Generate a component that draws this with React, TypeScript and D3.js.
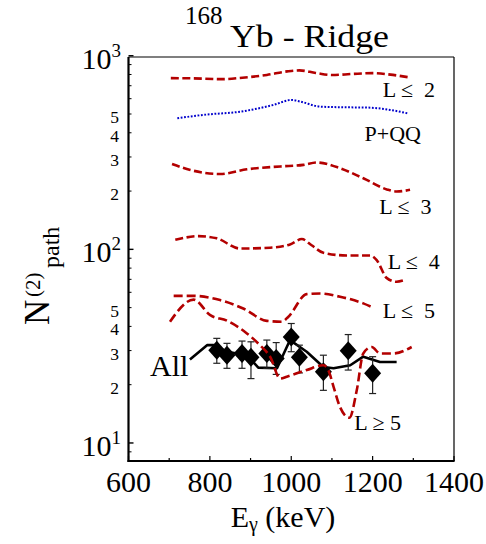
import React from 'react';
import * as d3 from 'd3';

// ---- data ----
const E_L2 = [704, 760, 830, 880, 940, 990, 1020, 1060, 1100, 1150, 1200, 1250, 1287];
const N_L2 = [766, 764, 757, 770, 796, 830, 840, 815, 795, 805, 813, 796, 775];

const E_PQQ = [720, 760, 793, 874, 956, 1001, 1022, 1071, 1120, 1186, 1243, 1288];
const N_PQQ = [475, 488, 497, 514, 557, 591, 580, 546, 542, 540, 525, 503];

const E_L3 = [707, 752, 825, 891, 973, 1030, 1063, 1112, 1177, 1235, 1259, 1292];
const N_L3 = [276, 257, 245, 259, 268, 273, 281, 266, 233, 204, 199, 203];

const E_L4 = [715, 772, 817, 874, 948, 997, 1026, 1050, 1079, 1136, 1194, 1210, 1235, 1259, 1275];
const N_L4 = [112, 117, 114, 101, 102, 106, 113, 105, 96, 93, 93, 88, 71, 68, 69];

const E_L5 = [711, 760, 825, 882, 940, 977, 993, 1038, 1071, 1120, 1177, 1202];
const N_L5 = [57.5, 57.5, 54.7, 49.5, 42.7, 42.3, 44.9, 58.7, 59.2, 56.9, 52.6, 49.9];

const E_G5 = [702, 760, 801, 842, 891, 923, 948, 973, 989, 1038, 1079, 1091, 1104, 1120, 1143, 1161, 1177, 1198, 1218, 1251, 1296];
const N_G5 = [42.3, 55, 45.7, 42.8, 36.8, 32.0, 27.9, 21.5, 22.0, 23.8, 25.2, 23.8, 19.5, 15.3, 13.5, 18.7, 29.0, 31.3, 29.0, 29.0, 31.3];

const E_ALL = [751, 793, 809, 842, 891, 919, 965, 997, 1038, 1079, 1104, 1145, 1177, 1218, 1259];
const N_ALL = [27.0, 32.0, 32.0, 29.6, 28.4, 24.5, 24.3, 34.0, 29.6, 24.7, 24.3, 25.2, 27.9, 26.2, 26.2];

const E_EXP = [817, 842, 879, 901, 940, 963, 1000, 1020, 1079, 1140, 1200];
const N_EXP = [30.1, 28.4, 29.0, 27.7, 29.0, 27.3, 35.3, 27.7, 23.3, 29.9, 22.9];
const HI_EXP = [34.7, 32.7, 33.6, 33.3, 34.0, 33.0, 41.4, 32.0, 28.4, 36.3, 27.9];
const LO_EXP = [25.8, 24.3, 24.3, 21.5, 24.3, 22.6, 29.6, 23.0, 18.7, 23.8, 18.0];

const X_TICKS = [600, 700, 800, 900, 1000, 1100, 1200, 1300, 1400];
const X_LABELS = [600, 800, 1000, 1200, 1400];
const Y_MAJOR = [10, 100, 1000];
const Y_MINOR = [9, 20, 30, 40, 50, 60, 70, 80, 90, 200, 300, 400, 500, 600, 700, 800, 900];
const Y_MINOR_LABELS = [20, 30, 40, 50, 200, 300, 400, 500];

const CURVE_LABELS = [
  { text: 'L \u2264  2', e: 1225, n: 615 },
  { text: 'P+QQ', e: 1180, n: 363 },
  { text: 'L \u2264  3', e: 1216.5, n: 152 },
  { text: 'L \u2264  4', e: 1237, n: 79.1 },
  { text: 'L \u2264  5', e: 1225, n: 44.0 },
  { text: 'L \u2265 5', e: 1155, n: 11.6 },
];
const ALL_LABEL = { text: 'All', e: 653, n: 22.2 };

const FONT = '"Liberation Serif", "Times New Roman", serif';

export default function App() {
  const M = { left: 128.5, right: 454, top: 57, bottom: 461 };
  const x = d3.scaleLinear().domain([600, 1400]).range([M.left, M.right]);
  const y = d3.scaleLog().domain([8.07, 985]).range([M.bottom, M.top]);

  const zip = (a: number[], b: number[]) => a.map((v, i) => [v, b[i]] as [number, number]);
  const smooth = d3.line<[number, number]>().x(d => x(d[0])).y(d => y(d[1])).curve(d3.curveMonotoneX);
  const straight = d3.line<[number, number]>().x(d => x(d[0])).y(d => y(d[1]));

  const red = '#b30000';
  const redDash = {
    fill: 'none', stroke: red, strokeWidth: 2.6, strokeDasharray: '8 3.5',
  } as React.CSSProperties;

  return (
    <svg width={486} height={544} style={{ position: 'absolute', left: 0, top: 0, background: '#fff' }}
      fontFamily={FONT}>
      {/* Title */}
      <text x={185} y={24.3} fontSize={25} fill="#000">168</text>
      <text x={230} y={46.7} fontSize={31} fill="#000" textLength={159} lengthAdjust="spacingAndGlyphs">Yb - Ridge</text>

      {/* Frame */}
      <line x1={M.left} x2={M.right} y1={M.top} y2={M.top} stroke="#000" strokeWidth={1.2} />
      <line x1={M.right} x2={M.right} y1={M.top} y2={M.bottom} stroke="#000" strokeWidth={1.2} />
      <line x1={M.left} x2={M.left} y1={M.top} y2={M.bottom + 1} stroke="#000" strokeWidth={2.2} />
      <line x1={M.left - 1} x2={M.right + 0.6} y1={M.bottom} y2={M.bottom} stroke="#000" strokeWidth={2.2} />

      {/* X ticks */}
      {X_TICKS.map(t => {
        const major = X_LABELS.includes(t);
        return <line key={'xt' + t} x1={x(t)} x2={x(t)} y1={M.bottom} y2={M.bottom - (major ? 5 : 3)} stroke="#000" strokeWidth={1.2} />;
      })}
      {X_LABELS.map(t => (
        <text key={'xl' + t} x={x(t)} y={492.3} fontSize={30} textAnchor="middle" fill="#000">{t}</text>
      ))}

      {/* Y ticks */}
      {Y_MAJOR.map(t => (
        <line key={'ymj' + t} x1={M.left} x2={M.left + 5} y1={y(t)} y2={y(t)} stroke="#000" strokeWidth={1.4} />
      ))}
      {Y_MINOR.map(t => (
        <line key={'ymn' + t} x1={M.left} x2={M.left + 3} y1={y(t)} y2={y(t)} stroke="#000" strokeWidth={1} />
      ))}
      {Y_MAJOR.map(t => (
        <text key={'yl' + t} x={121} y={y(t) + 13} fontSize={30} textAnchor="end" fill="#000">
          10<tspan fontSize={19} dy={-12}>{Math.round(Math.log10(t))}</tspan>
        </text>
      ))}
      {Y_MINOR_LABELS.map(t => (
        <text key={'yml' + t} x={119} y={y(t) + 9} fontSize={17.5} textAnchor="end" fill="#000">
          {String(t).charAt(0)}
        </text>
      ))}

      {/* Axis titles */}
      <text x={230.7} y={526.7} fontSize={30} fill="#000">
        E<tspan fontSize={20} dy={4}>{'\u03b3'}</tspan><tspan dy={-4} fontSize={30}>{' (keV)'}</tspan>
      </text>
      <g transform="translate(49,325) rotate(-90)">
        <text x={0} y={0} fontSize={35} fill="#000">N</text>
        <text x={28} y={-9} fontSize={21} fill="#000">(2)</text>
        <text x={57} y={9.5} fontSize={24} fill="#000">path</text>
      </g>

      {/* Theory curves (upper) */}
      <path d={smooth(zip(E_L2, N_L2)) || ''} style={redDash} />
      <path d={smooth(zip(E_PQQ, N_PQQ)) || ''} fill="none" stroke="#0000cc" strokeWidth={2} strokeDasharray="1.8 1.6" />
      <path d={smooth(zip(E_L3, N_L3)) || ''} style={redDash} />
      <path d={smooth(zip(E_L4, N_L4)) || ''} style={redDash} />

      {/* All line */}
      <path d={straight(zip(E_ALL, N_ALL)) || ''} fill="none" stroke="#000" strokeWidth={2.6} strokeLinejoin="round" />

      {/* Experimental points */}
      {E_EXP.map((e, i) => {
        const cx = x(e);
        return (
          <g key={'ex' + i} stroke="#222" strokeWidth={1.2}>
            <line x1={cx} x2={cx} y1={y(HI_EXP[i])} y2={y(LO_EXP[i])} />
            <line x1={cx - 3.5} x2={cx + 3.5} y1={y(HI_EXP[i])} y2={y(HI_EXP[i])} />
            <line x1={cx - 3.5} x2={cx + 3.5} y1={y(LO_EXP[i])} y2={y(LO_EXP[i])} />
          </g>
        );
      })}
      {E_EXP.map((e, i) => {
        const cx = x(e), cy = y(N_EXP[i]);
        return <path key={'dm' + i} d={`M${cx},${cy - 9.5}L${cx + 8.5},${cy}L${cx},${cy + 9.5}L${cx - 8.5},${cy}Z`} fill="#000" />;
      })}

      {/* Lower theory curves */}
      <path d={smooth(zip(E_L5, N_L5)) || ''} style={{ ...redDash, strokeDasharray: '9 4' }} />
      <path d={smooth(zip(E_G5, N_G5)) || ''} style={{ ...redDash, strokeDasharray: '9 4' }} />

      {/* Curve labels */}
      {CURVE_LABELS.map(l => (
        <text key={l.text} x={x(l.e)} y={y(l.n)} fontSize={22} fill="#000" style={{ whiteSpace: 'pre' }}>{l.text}</text>
      ))}
      <text x={x(ALL_LABEL.e)} y={y(ALL_LABEL.n)} fontSize={30} fill="#000">{ALL_LABEL.text}</text>
    </svg>
  );
}
